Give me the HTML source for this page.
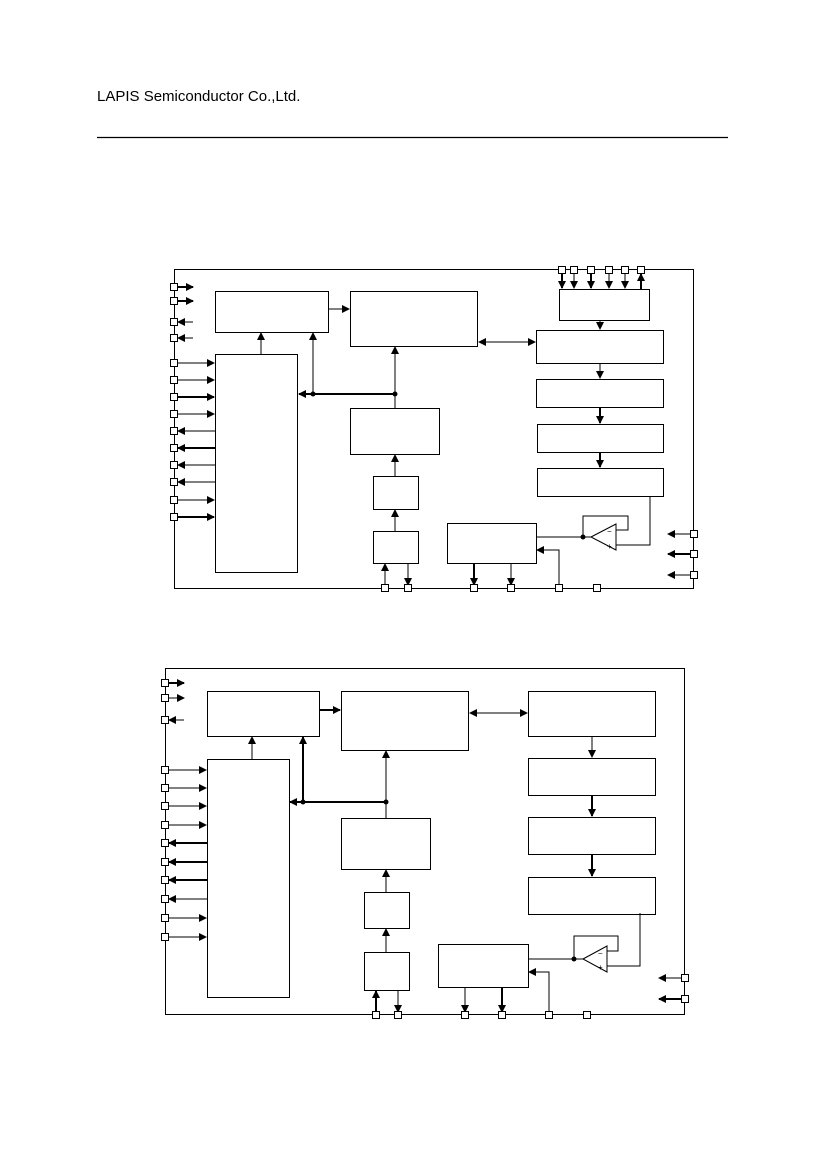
<!DOCTYPE html>
<html><head><meta charset="utf-8"><style>
html,body{margin:0;padding:0;background:#fff;width:827px;height:1169px;overflow:hidden}
svg{display:block}
</style></head><body>
<svg width="827" height="1169" viewBox="0 0 827 1169" xmlns="http://www.w3.org/2000/svg">
<defs>
<marker id="a" markerWidth="8" markerHeight="8" refX="7" refY="4" orient="auto" markerUnits="userSpaceOnUse"><path d="M0,0 L8,4 L0,8z" fill="#000"/></marker>
<marker id="s" markerWidth="8" markerHeight="8" refX="1" refY="4" orient="auto" markerUnits="userSpaceOnUse"><path d="M8,0 L0,4 L8,8z" fill="#000"/></marker>
</defs>
<text x="97" y="101" font-family="Liberation Sans, sans-serif" font-size="15" fill="#000">LAPIS Semiconductor Co.,Ltd.</text>
<line x1="97" y1="137.5" x2="728" y2="137.5" stroke="#000" stroke-width="1.2"/>

<g fill="none" stroke="#000" stroke-width="1">
<rect x="174.5" y="269.5" width="519" height="319"/>
<rect x="215.5" y="291.5" width="113" height="41"/>
<rect x="350.5" y="291.5" width="127" height="55"/>
<rect x="215.5" y="354.5" width="82" height="218"/>
<rect x="350.5" y="408.5" width="89" height="46"/>
<rect x="373.5" y="476.5" width="45" height="33"/>
<rect x="373.5" y="531.5" width="45" height="32"/>
<rect x="447.5" y="523.5" width="89" height="40"/>
<rect x="559.5" y="289.5" width="90" height="31"/>
<rect x="536.5" y="330.5" width="127" height="33"/>
<rect x="536.5" y="379.5" width="127" height="28"/>
<rect x="537.5" y="424.5" width="126" height="28"/>
<rect x="537.5" y="468.5" width="126" height="28"/>
<line x1="178" y1="287" x2="193" y2="287" stroke-width="2" marker-end="url(#a)"/>
<line x1="178" y1="301" x2="193" y2="301" stroke-width="2" marker-end="url(#a)"/>
<line x1="193" y1="322" x2="178" y2="322" marker-end="url(#a)"/>
<line x1="193" y1="338" x2="178" y2="338" marker-end="url(#a)"/>
<line x1="178" y1="363" x2="214" y2="363" marker-end="url(#a)"/>
<line x1="178" y1="380" x2="214" y2="380" marker-end="url(#a)"/>
<line x1="178" y1="397" x2="214" y2="397" stroke-width="2" marker-end="url(#a)"/>
<line x1="178" y1="414" x2="214" y2="414" marker-end="url(#a)"/>
<line x1="215" y1="431" x2="178" y2="431" marker-end="url(#a)"/>
<line x1="215" y1="448" x2="178" y2="448" stroke-width="2" marker-end="url(#a)"/>
<line x1="215" y1="465" x2="178" y2="465" marker-end="url(#a)"/>
<line x1="215" y1="482" x2="178" y2="482" marker-end="url(#a)"/>
<line x1="178" y1="500" x2="214" y2="500" marker-end="url(#a)"/>
<line x1="178" y1="517" x2="214" y2="517" stroke-width="2" marker-end="url(#a)"/>
<line x1="261" y1="354" x2="261" y2="333" marker-end="url(#a)"/>
<line x1="328" y1="309" x2="349" y2="309" marker-end="url(#a)"/>
<line x1="395" y1="394" x2="299" y2="394" stroke-width="2" marker-end="url(#a)"/>
<line x1="313" y1="394" x2="313" y2="333" marker-end="url(#a)"/>
<line x1="395" y1="408" x2="395" y2="347" marker-end="url(#a)"/>
<line x1="395" y1="476" x2="395" y2="455" marker-end="url(#a)"/>
<line x1="395" y1="531" x2="395" y2="510" marker-end="url(#a)"/>
<line x1="385" y1="585" x2="385" y2="564" marker-end="url(#a)"/>
<line x1="408" y1="564" x2="408" y2="585" marker-end="url(#a)"/>
<line x1="479" y1="342" x2="535" y2="342" marker-start="url(#s)" marker-end="url(#a)"/>
<line x1="600" y1="320" x2="600" y2="329" marker-end="url(#a)"/>
<line x1="600" y1="363" x2="600" y2="378" marker-end="url(#a)"/>
<line x1="600" y1="407" x2="600" y2="423" stroke-width="2" marker-end="url(#a)"/>
<line x1="600" y1="452" x2="600" y2="467" stroke-width="2" marker-end="url(#a)"/>
<line x1="562" y1="273" x2="562" y2="288" stroke-width="2" marker-end="url(#a)"/>
<line x1="574" y1="273" x2="574" y2="288" marker-end="url(#a)"/>
<line x1="591" y1="273" x2="591" y2="288" stroke-width="2" marker-end="url(#a)"/>
<line x1="609" y1="273" x2="609" y2="288" marker-end="url(#a)"/>
<line x1="625" y1="273" x2="625" y2="288" marker-end="url(#a)"/>
<line x1="641" y1="289" x2="641" y2="274" stroke-width="2" marker-end="url(#a)"/>
<line x1="474" y1="563" x2="474" y2="585" stroke-width="2" marker-end="url(#a)"/>
<line x1="511" y1="563" x2="511" y2="585" marker-end="url(#a)"/>
<polyline points="559,585 559,550 537,550" marker-end="url(#a)"/>
<line x1="690" y1="534" x2="668" y2="534" marker-end="url(#a)"/>
<line x1="690" y1="554" x2="668" y2="554" stroke-width="2" marker-end="url(#a)"/>
<line x1="690" y1="575" x2="668" y2="575" marker-end="url(#a)"/>
<line x1="536" y1="537" x2="591" y2="537"/>
<polygon points="591,537 616,524 616,550"/>
<polyline points="583,537 583,516 628,516 628,530 616,530"/>
<polyline points="616,545 650,545 650,496"/>
<rect x="165.5" y="668.5" width="519" height="346"/>
<rect x="207.5" y="691.5" width="112" height="45"/>
<rect x="341.5" y="691.5" width="127" height="59"/>
<rect x="207.5" y="759.5" width="82" height="238"/>
<rect x="341.5" y="818.5" width="89" height="51"/>
<rect x="364.5" y="892.5" width="45" height="36"/>
<rect x="364.5" y="952.5" width="45" height="38"/>
<rect x="438.5" y="944.5" width="90" height="43"/>
<rect x="528.5" y="691.5" width="127" height="45"/>
<rect x="528.5" y="758.5" width="127" height="37"/>
<rect x="528.5" y="817.5" width="127" height="37"/>
<rect x="528.5" y="877.5" width="127" height="37"/>
<line x1="169" y1="683" x2="184" y2="683" stroke-width="2" marker-end="url(#a)"/>
<line x1="169" y1="698" x2="184" y2="698" marker-end="url(#a)"/>
<line x1="184" y1="720" x2="169" y2="720" marker-end="url(#a)"/>
<line x1="169" y1="770" x2="206" y2="770" marker-end="url(#a)"/>
<line x1="169" y1="788" x2="206" y2="788" marker-end="url(#a)"/>
<line x1="169" y1="806" x2="206" y2="806" marker-end="url(#a)"/>
<line x1="169" y1="825" x2="206" y2="825" marker-end="url(#a)"/>
<line x1="207" y1="843" x2="169" y2="843" stroke-width="2" marker-end="url(#a)"/>
<line x1="207" y1="862" x2="169" y2="862" stroke-width="2" marker-end="url(#a)"/>
<line x1="207" y1="880" x2="169" y2="880" stroke-width="2" marker-end="url(#a)"/>
<line x1="207" y1="899" x2="169" y2="899" marker-end="url(#a)"/>
<line x1="169" y1="918" x2="206" y2="918" marker-end="url(#a)"/>
<line x1="169" y1="937" x2="206" y2="937" marker-end="url(#a)"/>
<line x1="252" y1="759" x2="252" y2="737" marker-end="url(#a)"/>
<line x1="319" y1="710" x2="340" y2="710" stroke-width="2" marker-end="url(#a)"/>
<line x1="386" y1="802" x2="290" y2="802" stroke-width="2" marker-end="url(#a)"/>
<line x1="303" y1="802" x2="303" y2="737" stroke-width="2" marker-end="url(#a)"/>
<line x1="386" y1="818" x2="386" y2="751" marker-end="url(#a)"/>
<line x1="386" y1="892" x2="386" y2="870" marker-end="url(#a)"/>
<line x1="386" y1="952" x2="386" y2="929" marker-end="url(#a)"/>
<line x1="376" y1="1012" x2="376" y2="991" stroke-width="2" marker-end="url(#a)"/>
<line x1="398" y1="991" x2="398" y2="1012" marker-end="url(#a)"/>
<line x1="470" y1="713" x2="527" y2="713" marker-start="url(#s)" marker-end="url(#a)"/>
<line x1="592" y1="736" x2="592" y2="757" marker-end="url(#a)"/>
<line x1="592" y1="795" x2="592" y2="816" stroke-width="2" marker-end="url(#a)"/>
<line x1="592" y1="854" x2="592" y2="876" stroke-width="2" marker-end="url(#a)"/>
<line x1="465" y1="987" x2="465" y2="1012" marker-end="url(#a)"/>
<line x1="502" y1="987" x2="502" y2="1012" stroke-width="2" marker-end="url(#a)"/>
<polyline points="549,1012 549,972 529,972" marker-end="url(#a)"/>
<line x1="681" y1="978" x2="659" y2="978" marker-end="url(#a)"/>
<line x1="681" y1="999" x2="659" y2="999" stroke-width="2" marker-end="url(#a)"/>
<line x1="528" y1="959" x2="583" y2="959"/>
<polygon points="583,959 607,946 607,972"/>
<polyline points="574,959 574,936 618,936 618,951 607,951"/>
<polyline points="607,966 640,966 640,913"/>
</g>
<g fill="#000">
<circle cx="313" cy="394" r="2.5"/><circle cx="395" cy="394" r="2.5"/><circle cx="583" cy="537" r="2.5"/>
<circle cx="303" cy="802" r="2.5"/><circle cx="386" cy="802" r="2.5"/><circle cx="574" cy="959" r="2.5"/>
</g>
<g font-family="Liberation Sans, sans-serif" font-size="8" fill="#000">
<text x="607" y="534">−</text><text x="607" y="549">+</text>
<text x="598" y="956">−</text><text x="598" y="970">+</text>
</g>
<g fill="#fff" stroke="#000" stroke-width="1">
<rect x="170.5" y="283.5" width="7" height="7"/><rect x="170.5" y="297.5" width="7" height="7"/>
<rect x="170.5" y="318.5" width="7" height="7"/><rect x="170.5" y="334.5" width="7" height="7"/>
<rect x="170.5" y="359.5" width="7" height="7"/><rect x="170.5" y="376.5" width="7" height="7"/>
<rect x="170.5" y="393.5" width="7" height="7"/><rect x="170.5" y="410.5" width="7" height="7"/>
<rect x="170.5" y="427.5" width="7" height="7"/><rect x="170.5" y="444.5" width="7" height="7"/>
<rect x="170.5" y="461.5" width="7" height="7"/><rect x="170.5" y="478.5" width="7" height="7"/>
<rect x="170.5" y="496.5" width="7" height="7"/><rect x="170.5" y="513.5" width="7" height="7"/>
<rect x="558.5" y="266.5" width="7" height="7"/><rect x="570.5" y="266.5" width="7" height="7"/>
<rect x="587.5" y="266.5" width="7" height="7"/><rect x="605.5" y="266.5" width="7" height="7"/>
<rect x="621.5" y="266.5" width="7" height="7"/><rect x="637.5" y="266.5" width="7" height="7"/>
<rect x="690.5" y="530.5" width="7" height="7"/><rect x="690.5" y="550.5" width="7" height="7"/><rect x="690.5" y="571.5" width="7" height="7"/>
<rect x="381.5" y="584.5" width="7" height="7"/><rect x="404.5" y="584.5" width="7" height="7"/>
<rect x="470.5" y="584.5" width="7" height="7"/><rect x="507.5" y="584.5" width="7" height="7"/>
<rect x="555.5" y="584.5" width="7" height="7"/><rect x="593.5" y="584.5" width="7" height="7"/>
<rect x="161.5" y="679.5" width="7" height="7"/><rect x="161.5" y="694.5" width="7" height="7"/>
<rect x="161.5" y="716.5" width="7" height="7"/><rect x="161.5" y="766.5" width="7" height="7"/>
<rect x="161.5" y="784.5" width="7" height="7"/><rect x="161.5" y="802.5" width="7" height="7"/>
<rect x="161.5" y="821.5" width="7" height="7"/><rect x="161.5" y="839.5" width="7" height="7"/>
<rect x="161.5" y="858.5" width="7" height="7"/><rect x="161.5" y="876.5" width="7" height="7"/>
<rect x="161.5" y="895.5" width="7" height="7"/><rect x="161.5" y="914.5" width="7" height="7"/>
<rect x="161.5" y="933.5" width="7" height="7"/>
<rect x="681.5" y="974.5" width="7" height="7"/><rect x="681.5" y="995.5" width="7" height="7"/>
<rect x="372.5" y="1011.5" width="7" height="7"/><rect x="394.5" y="1011.5" width="7" height="7"/>
<rect x="461.5" y="1011.5" width="7" height="7"/><rect x="498.5" y="1011.5" width="7" height="7"/>
<rect x="545.5" y="1011.5" width="7" height="7"/><rect x="583.5" y="1011.5" width="7" height="7"/>
</g>
</svg>
</body></html>
